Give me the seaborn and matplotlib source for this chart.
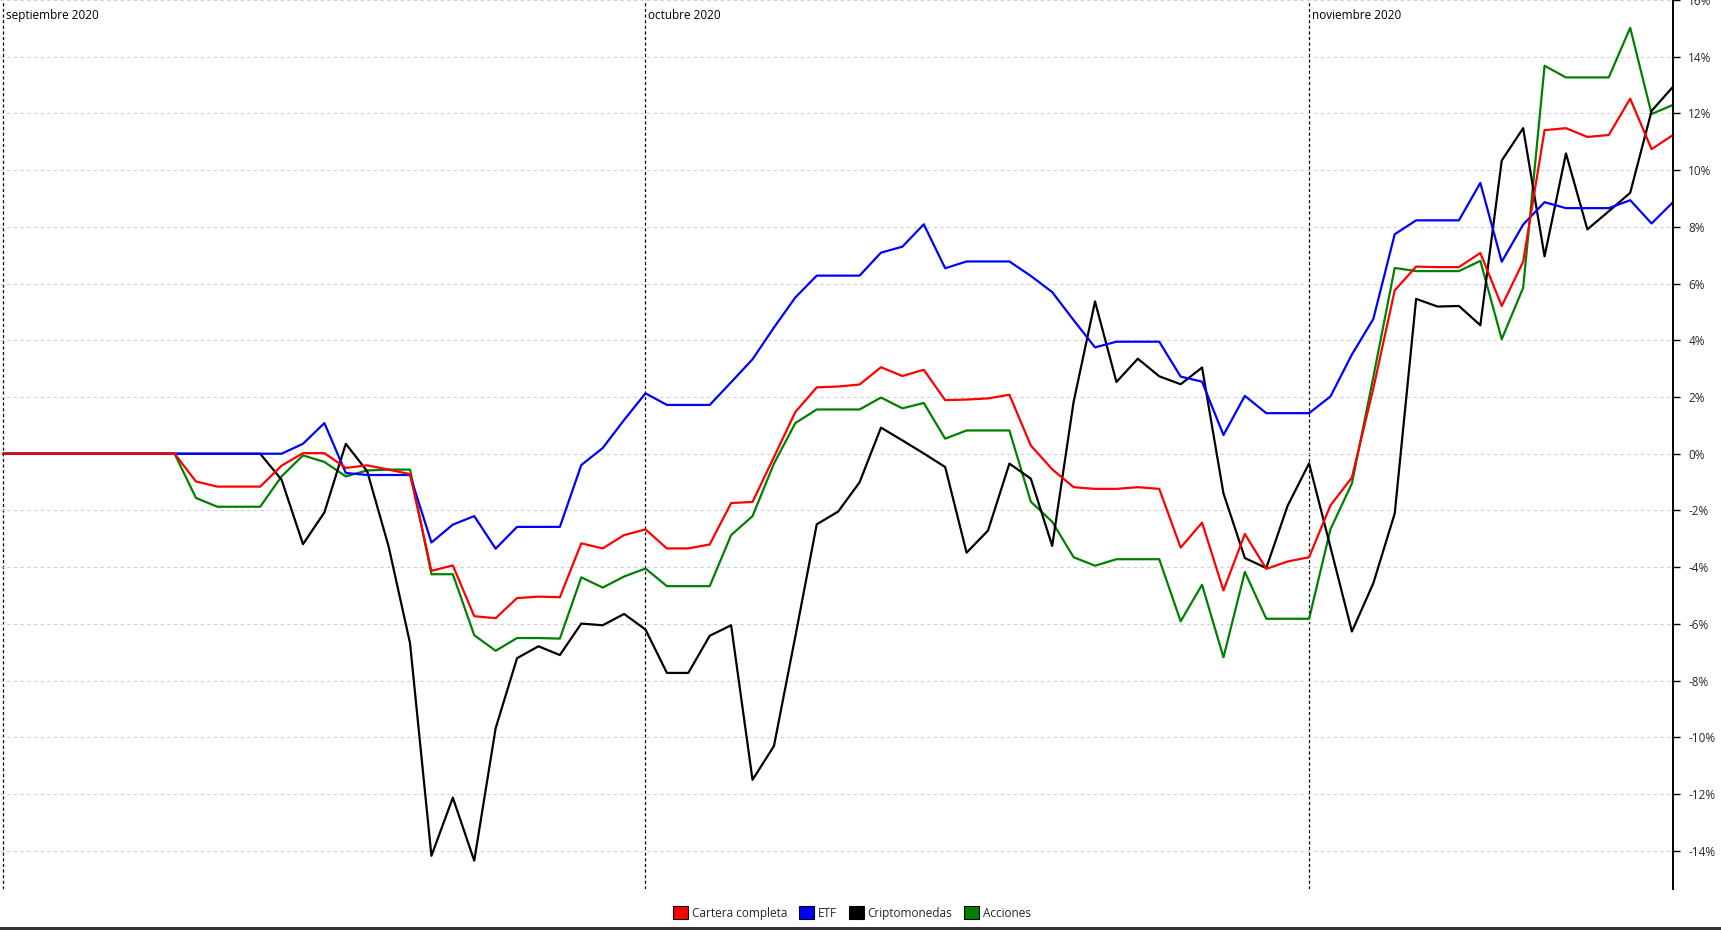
import pandas as pd
import numpy as np
import matplotlib
matplotlib.use('Agg')
import matplotlib.pyplot as plt
import matplotlib.dates as mdates
from matplotlib.patches import Patch, Rectangle
from matplotlib.ticker import FuncFormatter, MultipleLocator
import seaborn as sns

# Daily values (%), 1 Sep 2020 .. 18 Nov 2020
fechas = pd.date_range('2020-09-01', '2020-11-18', freq='D')

cartera = [0, 0, 0, 0, 0, 0, 0, 0, 0, -0.98,
           -1.16, -1.16, -1.16, -0.42, 0.02, 0.02, -0.5, -0.41, -0.56, -0.72,
           -4.13, -3.94, -5.73, -5.8, -5.09, -5.04, -5.06, -3.16, -3.34, -2.87,
           -2.67, -3.34, -3.34, -3.2, -1.74, -1.70, -0.12, 1.47, 2.34, 2.37,
           2.44, 3.05, 2.74, 2.96, 1.89, 1.91, 1.95, 2.08, 0.29, -0.55,
           -1.18, -1.24, -1.24, -1.18, -1.24, -3.31, -2.43, -4.82, -2.83, -4.06,
           -3.80, -3.65, -1.82, -0.84, 2.3, 5.76, 6.6, 6.58, 6.58, 7.08,
           5.21, 6.77, 11.41, 11.48, 11.17, 11.24, 12.52, 10.74, 11.24]

etf = [0, 0, 0, 0, 0, 0, 0, 0, 0, 0,
       0, 0, 0, 0, 0.35, 1.08, -0.68, -0.75, -0.75, -0.75,
       -3.13, -2.5, -2.2, -3.35, -2.58, -2.58, -2.58, -0.4, 0.2, 1.19,
       2.13, 1.72, 1.72, 1.72, 2.52, 3.33, 4.45, 5.51, 6.28, 6.28,
       6.28, 7.09, 7.30, 8.09, 6.54, 6.78, 6.78, 6.78, 6.27, 5.70,
       4.71, 3.75, 3.95, 3.95, 3.95, 2.72, 2.54, 0.66, 2.04, 1.43,
       1.43, 1.43, 2.02, 3.5, 4.75, 7.74, 8.23, 8.23, 8.23, 9.55,
       6.77, 8.08, 8.87, 8.66, 8.66, 8.66, 8.94, 8.12, 8.87]

cripto = [0, 0, 0, 0, 0, 0, 0, 0, 0, 0,
          0, 0, 0, -0.92, -3.19, -2.07, 0.35, -0.62, -3.27, -6.68,
          -14.18, -12.13, -14.35, -9.68, -7.21, -6.79, -7.1, -5.99, -6.05, -5.65,
          -6.2, -7.73, -7.73, -6.42, -6.05, -11.5, -10.31, -6.44, -2.49, -2.04,
          -1.01, 0.92, 0.47, 0.01, -0.47, -3.49, -2.71, -0.35, -0.88, -3.25,
          1.83, 5.37, 2.53, 3.35, 2.73, 2.45, 3.04, -1.40, -3.68, -4.03,
          -1.83, -0.34, -3.3, -6.27, -4.57, -2.11, 5.46, 5.19, 5.21, 4.53,
          10.34, 11.48, 6.96, 10.59, 7.91, 8.55, 9.2, 12.09, 12.94]

acciones = [0, 0, 0, 0, 0, 0, 0, 0, 0, -1.56,
            -1.87, -1.87, -1.87, -0.8, -0.06, -0.29, -0.8, -0.59, -0.56, -0.56,
            -4.25, -4.25, -6.4, -6.95, -6.5, -6.5, -6.52, -4.36, -4.72, -4.33,
            -4.05, -4.67, -4.67, -4.67, -2.87, -2.20, -0.35, 1.08, 1.56, 1.56,
            1.56, 1.98, 1.60, 1.79, 0.53, 0.82, 0.82, 0.82, -1.69, -2.4,
            -3.65, -3.95, -3.72, -3.72, -3.72, -5.91, -4.62, -7.18, -4.17, -5.82,
            -5.82, -5.82, -2.66, -1.05, 2.7, 6.55, 6.44, 6.44, 6.44, 6.8,
            4.04, 5.85, 13.68, 13.27, 13.27, 13.27, 15.02, 11.98, 12.3]

series = ['Cartera completa', 'ETF', 'Criptomonedas', 'Acciones']
colores = {'Cartera completa': '#ff0000', 'ETF': '#0000ff',
           'Criptomonedas': '#000000', 'Acciones': '#008000'}
meses = ['septiembre 2020', 'octubre 2020', 'noviembre 2020']
inicio_meses = ['2020-09-01', '2020-10-01', '2020-11-01']

df = pd.concat([
    pd.DataFrame({'fecha': fechas, 'valor': cartera, 'serie': 'Cartera completa'}),
    pd.DataFrame({'fecha': fechas, 'valor': etf, 'serie': 'ETF'}),
    pd.DataFrame({'fecha': fechas, 'valor': cripto, 'serie': 'Criptomonedas'}),
    pd.DataFrame({'fecha': fechas, 'valor': acciones, 'serie': 'Acciones'}),
])

sns.set_style('white')
plt.rcParams['font.family'] = ['Open Sans', 'DejaVu Sans']

fig = plt.figure(figsize=(17.21, 9.30), dpi=100)
ax = fig.add_axes([0.0, 1 - 889 / 930, 1673 / 1721, 889 / 930])

# draw order: red on top
sns.lineplot(data=df, x='fecha', y='valor', hue='serie',
             hue_order=['Acciones', 'Criptomonedas', 'ETF', 'Cartera completa'],
             palette=colores, linewidth=1.6, errorbar=None, legend=False, ax=ax)

ax.set_ylim(-15.35, 16.0)
ax.set_xlim(pd.Timestamp('2020-09-01') - pd.Timedelta(hours=3.7), pd.Timestamp('2020-11-18'))

# month separators and labels
for m, lab in zip(inicio_meses, meses):
    d = pd.Timestamp(m)
    ax.axvline(d, color='black', lw=0.9, linestyle=(0, (2.5, 2)), zorder=0)
    ax.annotate(lab, xy=(mdates.date2num(d), 1), xycoords=('data', 'axes fraction'),
                xytext=(3, -15.5), textcoords='offset pixels', ha='left', va='center',
                fontsize=8.5, color='black')

ax.yaxis.set_major_locator(MultipleLocator(2))
ax.yaxis.set_major_formatter(FuncFormatter(lambda v, p: f'{int(round(v))}%'))
ax.yaxis.tick_right()
ax.tick_params(axis='y', which='major', direction='out', length=5, width=1,
               color='black', pad=6, labelsize=8.5, right=True, left=False)
ax.set_xticks([])
ax.set_xlabel('')
ax.set_ylabel('')
ax.yaxis.grid(True, color='#d0d0d0', linestyle=(0, (3, 3)), linewidth=0.8)
ax.set_axisbelow(True)

for s in ['left', 'top', 'bottom']:
    ax.spines[s].set_visible(False)
ax.spines['right'].set_color('black')
ax.spines['right'].set_linewidth(1.4)

handles = [Patch(facecolor=colores[s], edgecolor='black', linewidth=0.8, label=s) for s in series]
fig.legend(handles=handles, loc='center', bbox_to_anchor=(0.495, 1 - 913 / 930), ncol=4,
           frameon=False, fontsize=8.5, handlelength=1.3, handleheight=1.3,
           handletextpad=0.3, columnspacing=1.0)

# dark strip at the bottom edge
fig.patches.append(Rectangle((0, 0), 1, 3.3 / 930, transform=fig.transFigure,
                             facecolor='#333333', edgecolor='none'))

fig.savefig('out.png', dpi=100)
